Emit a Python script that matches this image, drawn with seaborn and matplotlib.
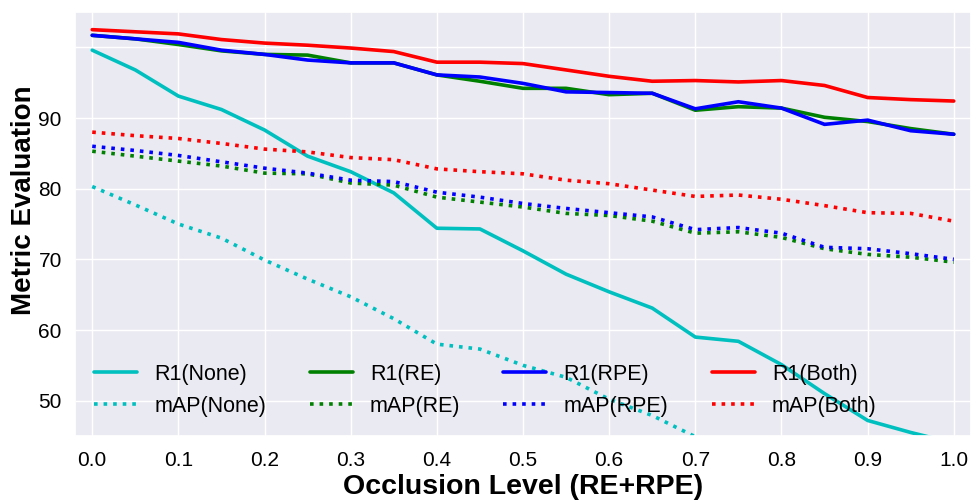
import numpy as np
import pandas as pd
import matplotlib
matplotlib.use("Agg")
import matplotlib.pyplot as plt
import seaborn as sns

levels = [0.0, 0.05, 0.1, 0.15, 0.2, 0.25, 0.3, 0.35, 0.4, 0.45, 0.5,
          0.55, 0.6, 0.65, 0.7, 0.75, 0.8, 0.85, 0.9, 0.95, 1.0]

r1_none = [99.6, 96.8, 93.1, 91.2, 88.3, 84.6, 82.4, 79.4, 74.4, 74.3, 71.2,
           67.9, 65.4, 63.1, 59.0, 58.4, 55.1, 51.0, 47.2, 45.5, 44.0]
map_none = [80.3, 77.7, 75.0, 73.0, 69.9, 67.2, 64.7, 61.6, 58.0, 57.3, 55.0,
            53.3, 50.2, 47.9, 44.9, 42.8, 41.0, 39.0, 37.5, 36.0, 34.5]
r1_re = [101.7, 101.2, 100.4, 99.5, 99.0, 98.9, 97.8, 97.8, 96.1, 95.2, 94.2,
         94.2, 93.3, 93.5, 91.1, 91.6, 91.4, 90.1, 89.5, 88.5, 87.7]
map_re = [85.3, 84.6, 83.9, 83.2, 82.2, 82.1, 80.8, 80.5, 78.8, 78.1, 77.4,
          76.5, 76.2, 75.4, 73.7, 73.9, 73.1, 71.5, 70.7, 70.3, 69.6]
r1_rpe = [101.7, 101.2, 100.7, 99.6, 99.0, 98.2, 97.8, 97.8, 96.1, 95.8, 94.9,
          93.7, 93.6, 93.5, 91.3, 92.3, 91.4, 89.1, 89.7, 88.2, 87.7]
map_rpe = [86.0, 85.4, 84.7, 83.8, 82.9, 82.2, 81.2, 81.0, 79.5, 78.8, 77.9,
           77.2, 76.6, 76.0, 74.2, 74.5, 73.7, 71.7, 71.5, 70.8, 70.0]
r1_both = [102.5, 102.2, 101.9, 101.1, 100.6, 100.3, 99.9, 99.4, 97.9, 97.9, 97.7,
           96.8, 95.9, 95.2, 95.3, 95.1, 95.3, 94.6, 92.9, 92.6, 92.4]
map_both = [88.0, 87.5, 87.1, 86.4, 85.6, 85.2, 84.4, 84.1, 82.8, 82.4, 82.1,
            81.2, 80.7, 79.8, 78.9, 79.1, 78.5, 77.6, 76.6, 76.5, 75.4]

x_ticks = [0.0, 0.1, 0.2, 0.3, 0.4, 0.5, 0.6, 0.7, 0.8, 0.9, 1.0]
x_tick_labels = ["0.0", "0.1", "0.2", "0.3", "0.4", "0.5", "0.6", "0.7", "0.8", "0.9", "1.0"]
y_ticks = [50, 60, 70, 80, 90, 100]
y_tick_labels = ["50", "60", "70", "80", "90", ""]

CYAN, GREEN, BLUE, RED = "#00BFBF", "#008000", "#0000FF", "#FF0000"

series = [
    ("R1(None)", r1_none, CYAN, "-"),
    ("mAP(None)", map_none, CYAN, ":"),
    ("R1(RE)", r1_re, GREEN, "-"),
    ("mAP(RE)", map_re, GREEN, ":"),
    ("R1(RPE)", r1_rpe, BLUE, "-"),
    ("mAP(RPE)", map_rpe, BLUE, ":"),
    ("R1(Both)", r1_both, RED, "-"),
    ("mAP(Both)", map_both, RED, ":"),
]

sns.set_theme(style="darkgrid")
plt.rcParams["font.family"] = ["Liberation Sans", "DejaVu Sans"]

fig = plt.figure(figsize=(9.71, 5.04), dpi=100)
ax = fig.add_axes([75 / 971, 1 - 436 / 504, 1 - 75 / 971, (436 - 12) / 504])

for name, vals, col, ls in series:
    sns.lineplot(x=levels, y=vals, color=col, linestyle=ls, linewidth=2.6,
                 label=name, ax=ax)

ax.set_xlim(-0.02, 1.02)
ax.set_ylim(45, 105)
ax.set_xticks(x_ticks)
ax.set_xticklabels(x_tick_labels)
ax.set_yticks(y_ticks)
ax.set_yticklabels(y_tick_labels)
ax.tick_params(axis="both", labelsize=15, labelcolor="black")
ax.tick_params(axis="x", pad=5)
ax.set_xlabel("Occlusion Level (RE+RPE)", fontsize=20.5, fontweight="bold",
              color="black")
ax.set_ylabel("Metric Evaluation", fontsize=20, fontweight="bold",
              color="black")
ax.xaxis.set_label_coords(0.5, -0.09)
ax.yaxis.set_label_coords(-0.042, 0.557)

leg = ax.legend(loc="lower left", ncol=4, frameon=False, fontsize=15.5)
for t in leg.get_texts():
    t.set_color("black")

fig.savefig("out.png", dpi=100)
